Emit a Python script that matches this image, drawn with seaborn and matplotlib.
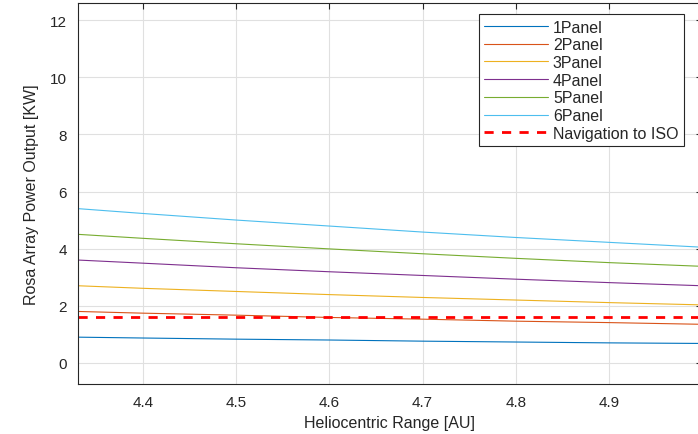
import pandas as pd
import matplotlib.pyplot as plt
import seaborn as sns

# Data
range_au = [4.33, 4.4, 4.5, 4.6, 4.7, 4.8, 4.9, 5.0]
panel_1 = [0.90, 0.87, 0.83, 0.80, 0.76, 0.73, 0.70, 0.68]
panel_2 = [1.80, 1.74, 1.67, 1.59, 1.53, 1.46, 1.41, 1.35]
panel_3 = [2.70, 2.61, 2.50, 2.39, 2.29, 2.20, 2.11, 2.03]
panel_4 = [3.60, 3.49, 3.33, 3.19, 3.06, 2.93, 2.81, 2.70]
panel_5 = [4.50, 4.36, 4.17, 3.99, 3.82, 3.66, 3.51, 3.38]
panel_6 = [5.40, 5.23, 5.00, 4.79, 4.58, 4.39, 4.22, 4.05]
navigation_iso = [1.60, 1.60, 1.60, 1.60, 1.60, 1.60, 1.60, 1.60]

series_names = ["1Panel", "2Panel", "3Panel", "4Panel", "5Panel", "6Panel"]
series_values = [panel_1, panel_2, panel_3, panel_4, panel_5, panel_6]
colors = ["#0072BD", "#D95319", "#EDB120", "#7E2F8E", "#77AC30", "#4DBEEE"]

rows = []
for name, vals in zip(series_names, series_values):
    for x, y in zip(range_au, vals):
        rows.append({"range": x, "power": y, "series": name})
df = pd.DataFrame(rows)
nav_df = pd.DataFrame({"range": range_au, "power": navigation_iso})

sns.set_style("whitegrid")
plt.rcParams['font.family'] = ['Liberation Sans', 'DejaVu Sans']

fig = plt.figure(figsize=(6.98, 4.35), dpi=100)
ax = fig.add_axes([78 / 698, 50 / 435, 624 / 698, 381 / 435])

sns.lineplot(data=df, x="range", y="power", hue="series",
             palette=colors, linewidth=0.8, ax=ax)
sns.lineplot(data=nav_df, x="range", y="power", color="red",
             linewidth=2.0, linestyle=(0, (3.3, 3.0)), ax=ax,
             label="Navigation to ISO")

ax.set_xlim(4.33, 5.0)
ax.set_ylim(-0.74, 12.6)
ax.set_xticks([4.4, 4.5, 4.6, 4.7, 4.8, 4.9])
ax.set_yticks([0, 2, 4, 6, 8, 10, 12])
ax.set_xticklabels(["4.4", "4.5", "4.6", "4.7", "4.8", "4.9"])
ax.grid(True, color="#e0e0e0", linewidth=0.8)

ax.tick_params(direction="in", length=4, width=0.8, colors="#262626",
               labelsize=11, top=True, right=True, pad=8)
for side in ["left", "right", "top", "bottom"]:
    ax.spines[side].set_color("#262626")
    ax.spines[side].set_linewidth(0.8)

ax.set_xlabel("Heliocentric Range [AU]", fontsize=11.5, color="#262626", labelpad=4)
ax.set_ylabel("Rosa Array Power Output [KW]", fontsize=11.5, color="#262626", labelpad=8)

leg = ax.legend(loc="upper right", bbox_to_anchor=(684 / 698, 1 - 15 / 435),
                bbox_transform=fig.transFigure, fontsize=11.5, frameon=True,
                fancybox=False, handlelength=4.0, labelspacing=0.17,
                borderpad=0.35, handletextpad=0.3, borderaxespad=0)
for text in leg.get_texts():
    text.set_color("#262626")
leg.get_frame().set_edgecolor("#262626")
leg.get_frame().set_linewidth(0.8)
leg.get_frame().set_alpha(1)

plt.savefig("out.png", dpi=100)
